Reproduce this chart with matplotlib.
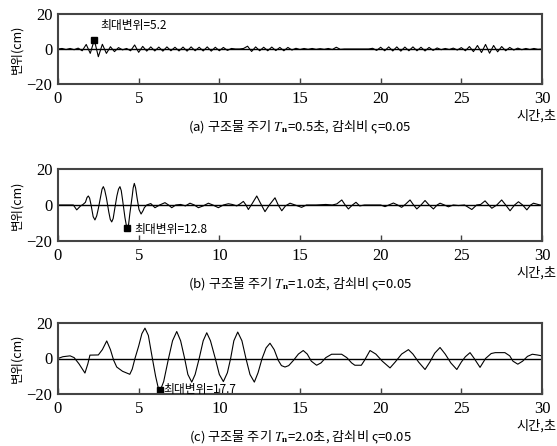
import numpy as np
import matplotlib
matplotlib.use('Agg')
import matplotlib.pyplot as plt

plt.rcParams['font.family'] = ['Liberation Serif', 'Noto Sans CJK KR']
plt.rcParams['mathtext.fontset'] = 'stix'

# (a) Tn=0.5s : 0.25초 간격 값
t_a = np.arange(0, 30.001, 0.25)
y_a = [0.0, 0.3, -0.3, 0.3, -0.4, 0.5, -1.0, 2.6, -2.5, 5.2,
       -4.4, 2.7, -2.5, 1.3, -1.5, 0.8, -0.5, 0.3, -1.0, 2.3,
       -1.9, 1.5, -1.2, 1.2, -1.1, 1.1, -1.2, 1.2, -1.0, 1.0,
       -1.1, 1.1, -1.2, 1.2, -1.0, 1.0, -1.1, 1.2, -1.2, 1.0,
       -1.0, 0.9, -0.8, 0.3, 0.0, 0.0, 0.3, 1.6, -1.4, 1.2,
       -1.0, 1.0, -1.0, 1.1, -0.9, 0.9, -1.0, 0.9, -0.6, 0.4,
       -0.3, 0.3, -0.2, 0.3, -0.2, 0.2, -0.2, 0.3, -0.3, 1.0,
       -0.2, 0.0, 0.0, 0.0, 0.0, 0.0, 0.0, 0.0, 0.4, -0.8,
       1.0, -1.0, 1.2, -1.1, 1.2, -1.2, 1.1, -1.0, 1.2, -1.0,
       1.0, -1.1, 0.9, -0.8, 0.6, -0.4, 0.3, -0.3, 0.5, -0.6,
       0.8, -1.0, 1.4, -1.5, 2.0, -2.0, 2.6, -2.4, 2.0, -1.6,
       1.4, -1.0, 0.9, -0.6, 0.5, -0.4, 0.3, -0.3, 0.3, -0.2, 0.0]

# (b) Tn=1.0s
t_b = [0, 0.95, 1.16, 1.4, 1.55, 1.7, 1.8, 1.88, 1.96, 2.05, 2.18, 2.29, 2.4,
       2.5, 2.65, 2.73, 2.81, 2.89, 3.0, 3.15, 3.24, 3.33, 3.42, 3.5, 3.65,
       3.75, 3.84, 3.92, 4.0, 4.15, 4.23, 4.3, 4.38, 4.45, 4.6, 4.66, 4.73,
       4.81, 4.9, 5.02, 5.15, 5.28, 5.35, 5.5, 5.75, 6.01, 6.3, 6.63, 6.85,
       7.05, 7.3, 7.6, 7.9,
       8.18, 8.45, 8.7, 9.0, 9.32, 9.6, 9.94, 10.25, 10.56, 10.8, 11.08,
       11.3, 11.49, 11.65, 11.8, 12.05, 12.32, 12.55, 12.83, 13.1, 13.45,
       13.65, 13.87, 14.1, 14.38, 14.7, 15.1, 15.4, 16.0, 16.6, 17.0, 17.28,
       17.59, 17.8, 18.0, 18.25, 18.47, 18.7, 19.0, 19.5, 20.0, 20.27, 20.5,
       20.79, 21.05, 21.3, 21.55, 21.82, 22.0, 22.24, 22.5, 22.75, 23.0,
       23.27, 23.5, 23.68, 23.95, 24.2, 24.5, 24.82, 25.2, 25.65, 25.95,
       26.2, 26.47, 26.7, 26.89, 27.2, 27.5, 27.75, 28.02, 28.3, 28.54,
       28.8, 29.06, 29.3, 29.47, 29.88, 30]
y_b = [0, 0, -2.7, -0.5, 0.3, 1.5, 4.2, 5.0, 3.8, 0, -6.5, -8.3, -6,
       -2, 5, 8.8, 10.2, 8.5, 4, -4, -8, -9.4, -7.5, -3, 5,
       8.8, 10.2, 8, 3, -7, -11, -12.8, -10.5, -5, 5, 9.5, 12.0,
       9.5, 4, -2.5, -5, -3, -1.5, 0, 0.8, -1.5, 0, 1.3, 0,
       -1.5, 0, 0.3, -0.5,
       1.0, 0, -1.5, -0.5, 1.0, 0, -1.5, 0, 0.7, 0.3, -0.5,
       0.7, 2.0, 0, -2.5, 1, 5.0, 1, -3.7, 0, 4.0,
       0, -3.2, -0.5, 1.0, 0, -1.3, 0, 0, 0.3, 0, 0.6,
       2.8, 0, -2.2, 0, 1.5, -0.5, 0, 0, 0, -0.9, 0,
       1.1, 0, -1.3, 0.5, 2.8, 0.5, -2.2, 0, 2.5, 0,
       -2.2, 0, 1.0, 0, -1.0, 0, -0.3, 0, -2.5, 0,
       0.3, 2.3, 0, -1.8, 0, 2.8, 0, -3.2, 0, 1.8,
       0, -2.7, 0, 1.0, 0, 0]

# (c) Tn=2.0s
t_c = [0, 0.3, 0.75, 1.0, 1.3, 1.67, 1.85, 1.98, 2.5, 2.75, 3.02, 3.25, 3.45,
       3.64, 4.0, 4.45, 4.6, 4.77, 5.0, 5.2, 5.39, 5.6, 5.85, 6.05, 6.2, 6.35,
       6.55, 6.85, 7.1, 7.36, 7.6, 7.85, 8.05, 8.29, 8.5, 8.75, 9.0, 9.22,
       9.45, 9.75, 10.0, 10.25, 10.5, 10.7, 10.9, 11.14, 11.4, 11.65, 11.9,
       12.17, 12.4, 12.65, 12.9, 13.14, 13.4, 13.65, 13.85, 14.07, 14.3,
       14.6, 14.9, 15.2, 15.45, 15.7, 16.03, 16.3, 16.6, 16.96, 17.58, 17.9,
       18.2, 18.4, 18.8, 19.0, 19.34, 19.7, 20.1, 20.58, 20.9, 21.3, 21.72,
       22.0, 22.35, 22.75, 23.05, 23.35, 23.68, 24.0, 24.35, 24.72, 25.0,
       25.25, 25.54, 25.8, 26.16, 26.5, 26.85, 27.1, 27.7, 28.0, 28.2, 28.5,
       28.8, 29.1, 29.4, 29.7, 30]
y_c = [0, 1.0, 1.5, 0.5, -3, -8.2, -3, 1.9, 2.0, 5, 9.9, 5, -1,
       -4.8, -7.2, -8.9, -6, 0, 7, 14, 17.1, 13, 0, -10, -16, -17.7,
       -13, 0, 10, 15.2, 10, 0, -9, -13.3, -9, 0, 10, 14.5,
       10, 0, -9, -13, -8, 0, 10, 14.9, 10, 0, -9,
       -13.3, -8, 0, 6, 8.6, 5, -1, -4, -4.8, -4,
       -1, 2.5, 4.5, 2.5, -1.5, -3.8, -2.5, 0.5, 2.4, 2.4, 0.5,
       -2.5, -3.8, -3.8, -1, 4.5, 2.5, -1.5, -5.3, -2, 2.5, 5.0,
       2.5, -2, -6.2, -2, 3, 6.2, 2.5, -2.5, -6.2, -2,
       1, 3.3, 0, -5, 0, 2.8, 3.3, 3.3, 1.5, -1.5, -3.2,
       -1.5, 1.2, 2.4, 2.0, 1.5]

panels = [
    (t_a, y_a, '(a) 구조물 주기 $T_{\\mathbf{n}}$=0.5초, 감쇠비 ς=0.05', (0.35, 8.0)),
    (t_b, y_b, '(b) 구조물 주기 $T_{\\mathbf{n}}$=1.0초, 감쇠비 ς=0.05', (0.45, -1.0)),
    (t_c, y_c, '(c) 구조물 주기 $T_{\\mathbf{n}}$=2.0초, 감쇠비 ς=0.05', (0.2, 0.3)),
]
# 축 위치 (픽셀: 위, 아래)
px_rows = [(14, 84), (169, 241), (323, 394)]

W, H = 557, 446
fig = plt.figure(figsize=(W / 100, H / 100), dpi=100)
fig.patch.set_facecolor('white')
kfont = ['Noto Sans CJK KR']

for (t, y, cap, off), (top, bot) in zip(panels, px_rows):
    ax = fig.add_axes([58 / W, (H - bot) / H, 484 / W, (bot - top) / H])
    t = np.asarray(t)
    y = np.asarray(y)
    ax.axhline(0, color='black', linewidth=1.0)
    ax.plot(t, y, color='black', linewidth=0.8)
    i = np.argmax(np.abs(y))
    ax.plot(t[i], y[i], marker='s', color='black', markersize=4)
    ax.text(t[i] + off[0], y[i] + off[1], '최대변위=%.1f' % abs(y[i]),
            family=kfont, fontsize=8.5, va='center', ha='left')
    ax.set_xlim(0, 30)
    ax.set_ylim(-20, 20)
    ax.set_xticks([0, 5, 10, 15, 20, 25, 30])
    ax.set_yticks([-20, 0, 20])
    ax.tick_params(axis='x', direction='in', length=4, width=1, pad=5,
                   labelsize=12, color='#444444')
    ax.tick_params(axis='y', length=0, pad=4, labelsize=12)
    for s in ax.spines.values():
        s.set_color('#444444')
        s.set_linewidth(1.5)
    ax.set_ylabel('변위(cm)', family=kfont, fontsize=9, labelpad=2)
    fig.text(556 / W, 1 - (bot + 32) / H, '시간,초', family=kfont, fontsize=9.5,
             ha='right', va='center')
    fig.text(300 / W, 1 - (bot + 43) / H, cap, family=kfont, fontsize=9.5,
             ha='center', va='center')

fig.savefig('out.png', dpi=100)
